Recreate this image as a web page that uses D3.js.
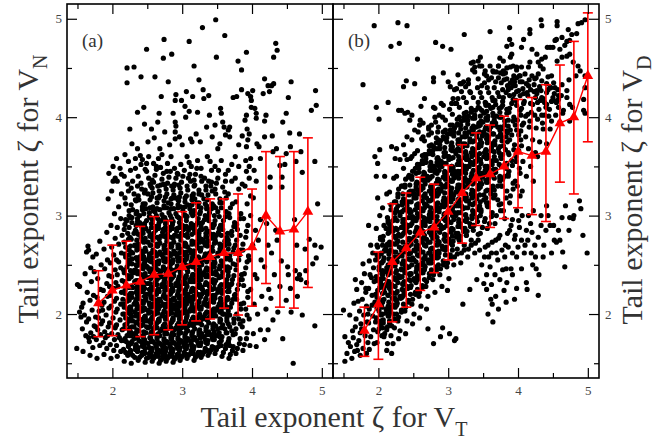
<!DOCTYPE html>
<html>
<head>
<meta charset="utf-8">
<script src="https://d3js.org/d3.v7.min.js"></script>
<style>
  body { margin: 0; background: #fff; }
  svg { display: block; }
</style>
</head>
<body>
<script>
// scatter points, values in hundredths, flat x,y pairs
// panel (a): zeta_T vs zeta_N, lower / core part
const scatterA = [
  149,165, 155,197, 153,202, 156,207, 150,230, 153,228,
  158,162, 162,178, 157,185, 163,192, 160,199, 158,211, 164,222, 161,241, 163,263, 165,269, 166,265,
  168,158, 172,166, 167,172, 173,177, 169,181, 174,188, 166,195, 171,204, 168,214, 173,219, 170,233, 174,243, 169,247, 172,258, 166,176,
  178,155, 182,168, 177,174, 183,179, 179,184, 184,190, 176,197, 181,203, 185,209, 178,217, 183,225, 179,236, 184,250, 177,261, 182,274, 180,196, 176,187,
  188,159, 192,165, 187,171, 193,178, 189,182, 194,187, 186,193, 191,199, 195,206, 188,212, 193,218, 187,224, 192,231, 195,239, 189,246, 193,255, 188,266, 192,283, 194,317, 195,343, 190,176, 186,204,
  198,155, 202,163, 197,169, 203,174, 199,180, 204,186, 196,191, 201,196, 205,202, 198,208, 203,213, 197,219, 202,226, 205,232, 199,238, 204,245, 197,252, 202,260, 199,268, 204,277, 198,290, 203,302, 199,325, 204,338, 201,335, 205,188, 196,228,
  207,157, 212,162, 206,168, 213,173, 208,179, 214,184, 206,189, 211,194, 215,200, 207,205, 212,210, 206,216, 213,222, 208,228, 214,234, 207,240, 212,247, 206,255, 213,262, 209,271, 214,280, 207,288, 212,297, 209,309, 213,322, 207,335, 211,348, 215,215, 210,176, 209,253,
  217,152, 222,158, 216,164, 223,169, 218,175, 224,180, 216,185, 221,190, 225,195, 217,200, 222,205, 216,210, 223,215, 218,221, 224,227, 217,233, 222,239, 216,245, 223,251, 219,258, 224,265, 217,273, 222,282, 218,291, 224,300, 219,312, 223,325, 217,340, 220,172, 225,238, 219,296,
  227,150, 232,156, 226,161, 233,167, 228,172, 234,177, 226,182, 231,187, 235,192, 227,197, 232,202, 226,207, 233,212, 228,217, 234,222, 227,228, 232,233, 226,239, 233,245, 228,251, 234,257, 227,263, 232,270, 226,277, 233,285, 228,293, 234,302, 227,311, 231,322, 229,335, 233,348, 229,180, 235,210, 230,242, 235,265,
  237,153, 242,158, 236,163, 243,168, 238,173, 244,178, 236,183, 241,188, 245,193, 237,198, 242,203, 236,208, 243,213, 238,218, 244,223, 236,228, 241,233, 245,238, 237,243, 242,249, 236,255, 243,261, 238,267, 244,274, 237,281, 242,289, 236,297, 243,306, 238,316, 242,327, 237,340, 244,170, 239,195, 240,225, 245,258, 239,293,
  247,151, 252,156, 246,161, 253,166, 248,171, 254,176, 246,181, 251,186, 255,191, 247,196, 252,201, 246,206, 253,211, 248,216, 254,221, 246,226, 251,231, 255,236, 247,241, 252,246, 246,252, 253,258, 248,264, 254,270, 247,277, 252,284, 246,291, 253,299, 248,307, 254,316, 247,326, 252,338, 249,353, 245,168, 250,193, 255,218, 250,248, 245,288,
  257,152, 262,157, 256,162, 263,167, 258,172, 264,177, 256,182, 261,187, 265,192, 257,197, 262,202, 256,207, 263,212, 258,217, 264,222, 256,227, 261,232, 265,237, 257,242, 262,247, 256,253, 263,259, 258,265, 264,271, 257,278, 262,285, 256,292, 263,300, 258,309, 264,318, 257,328, 261,341, 255,175, 260,200, 265,225, 260,250, 255,280, 259,305,
  267,150, 272,155, 266,160, 273,165, 268,170, 274,175, 266,180, 271,185, 275,190, 267,195, 272,200, 266,205, 273,210, 268,215, 274,220, 266,225, 271,230, 275,235, 267,240, 272,245, 266,251, 273,257, 268,263, 274,269, 267,276, 272,283, 266,290, 273,298, 268,306, 274,315, 267,325, 271,337, 269,349, 271,162, 265,212, 270,238, 275,262, 270,295,
  277,152, 282,157, 276,162, 283,167, 278,172, 284,177, 276,182, 281,187, 285,192, 277,197, 282,202, 276,207, 283,212, 278,217, 284,222, 276,227, 281,232, 285,237, 277,242, 282,247, 276,253, 283,259, 278,265, 284,271, 277,278, 282,285, 276,292, 283,300, 278,308, 284,317, 277,327, 281,339, 279,353, 275,170, 280,200, 285,225, 280,255, 275,285, 280,313,
  287,151, 292,156, 286,161, 293,166, 288,171, 294,176, 286,181, 291,186, 295,191, 287,196, 292,201, 286,206, 293,211, 288,216, 294,221, 286,226, 291,231, 295,236, 287,241, 292,246, 286,252, 293,258, 288,264, 294,270, 287,277, 292,284, 286,291, 293,299, 288,307, 294,316, 287,326, 291,338, 289,348, 285,175, 290,205, 295,228, 290,262, 285,295, 290,318,
  297,153, 302,158, 296,163, 303,168, 298,173, 304,178, 296,183, 301,188, 305,193, 297,198, 302,203, 296,208, 303,213, 298,218, 304,223, 296,228, 301,233, 305,238, 297,243, 302,248, 296,254, 303,260, 298,266, 304,272, 297,279, 302,286, 296,293, 303,301, 298,309, 304,318, 297,328, 301,340, 295,170, 300,210, 305,250, 300,290, 295,315,
  307,155, 312,160, 306,165, 313,170, 308,175, 314,180, 306,185, 311,190, 315,195, 307,200, 312,205, 306,210, 313,215, 308,220, 314,225, 306,230, 311,235, 315,240, 307,245, 312,250, 306,256, 313,262, 308,268, 314,274, 307,281, 312,288, 306,295, 313,303, 308,311, 314,320, 307,330, 311,342, 310,354, 305,172, 310,215, 315,258, 305,300, 312,335,
  317,153, 322,158, 316,164, 323,170, 318,176, 324,182, 316,188, 321,194, 325,200, 317,205, 322,210, 316,215, 323,220, 318,225, 324,230, 316,235, 321,240, 325,245, 317,250, 322,255, 316,261, 323,267, 318,273, 324,279, 317,286, 322,293, 316,301, 323,309, 318,317, 324,326, 317,336, 321,348, 315,195, 320,245, 325,285, 315,320,
  327,156, 332,162, 326,168, 333,174, 328,180, 334,186, 326,192, 331,197, 335,202, 327,207, 332,212, 326,217, 333,222, 328,227, 334,232, 326,237, 331,242, 335,247, 327,252, 332,258, 326,264, 333,270, 328,276, 334,282, 327,289, 332,296, 326,304, 333,312, 328,321, 334,330, 327,340, 325,230, 330,275, 335,310,
  337,158, 342,164, 336,170, 343,176, 338,182, 344,188, 336,194, 341,200, 345,205, 337,210, 342,215, 336,220, 343,225, 338,230, 344,235, 336,240, 341,246, 345,252, 337,258, 342,264, 336,270, 343,277, 338,284, 344,291, 337,299, 342,307, 336,316, 343,325, 338,335, 342,346, 340,355, 345,280,
  347,160, 352,167, 346,174, 353,181, 348,188, 354,195, 346,201, 351,207, 355,213, 347,219, 352,225, 346,231, 353,237, 348,243, 354,249, 346,255, 351,262, 355,269, 347,276, 352,283, 346,291, 353,299, 348,308, 354,317, 347,327, 351,338, 350,178, 350,240, 345,310,
  357,157, 362,165, 356,173, 363,181, 358,189, 364,196, 356,203, 361,210, 365,217, 357,224, 362,231, 356,238, 363,245, 358,252, 364,259, 356,266, 361,274, 365,282, 357,290, 362,299, 356,308, 363,318, 358,329, 362,342, 360,200, 360,270,
  367,155, 372,163, 366,171, 373,179, 368,187, 374,195, 366,203, 371,211, 375,219, 367,227, 372,235, 366,243, 373,251, 368,259, 374,267, 366,275, 371,284, 375,293, 367,302, 372,312, 366,322, 371,335, 368,168, 370,230,
  377,160, 382,170, 376,180, 383,190, 378,200, 384,210, 376,220, 381,230, 385,240, 377,250, 382,260, 376,270, 383,280, 378,291, 384,302, 377,314, 381,327,
  387,163, 392,175, 386,187, 393,199, 388,211, 394,223, 386,235, 391,247, 395,259, 387,271, 392,284, 388,297, 393,312, 390,330, 392,345, 396,350, 398,320,
  397,168, 402,180, 396,195, 403,210, 398,225, 404,240, 396,255, 401,270, 405,285, 398,300, 402,318, 406,335,
  406,167, 412,184, 408,200, 414,218, 407,236, 413,255, 409,275, 412,296,
  418,174, 423,184, 420,205, 424,225, 418,248, 423,270, 421,292,
  430,194, 427,216, 432,240, 428,262, 434,285,
  437,202, 444,175, 440,228, 442,254, 436,275,
  449,214, 451,248, 456,202, 452,240, 455,226,
  459,150, 462,244, 465,218, 464,270, 461,296, 465,236,
  468,240, 470,235, 472,199,
  477,244, 478,232, 476,266, 482,276,
  487,251, 490,188, 490,270, 492,257, 499,268, 494,312
];

// panel (a): the black core, points between the ones above
const coreA = [
  219,161, 223,167, 217,173, 221,178, 224,184, 218,189, 219,196, 223,201, 217,207, 221,213, 224,219, 218,224, 219,230, 223,236, 217,242, 221,248, 224,255, 218,261, 219,268, 223,276, 217,286, 221,295, 224,305, 218,318,
  229,158, 233,164, 227,170, 231,175, 234,181, 228,187, 229,193, 233,198, 227,204, 231,210, 234,215, 228,221, 229,227, 233,232, 227,238, 231,244, 234,250, 228,256, 229,262, 233,269, 227,276, 231,282, 234,290, 228,298, 229,306, 233,316, 227,328,
  239,156, 243,161, 237,166, 241,172, 244,177, 238,183, 239,189, 243,194, 237,200, 241,206, 244,211, 238,216, 239,222, 243,228, 237,234, 241,240, 244,246, 238,252, 239,258, 243,264, 237,271, 241,278, 244,285, 238,292, 239,300, 243,309, 237,320, 241,333,
  249,155, 253,160, 247,165, 251,170, 254,176, 248,181, 249,187, 253,193, 247,198, 251,204, 254,209, 248,214, 249,220, 253,225, 247,231, 251,237, 254,243, 248,249, 249,255, 253,261, 247,267, 251,273, 254,280, 248,287, 249,295, 253,303, 247,312, 251,322, 254,332, 249,345,
  259,155, 263,160, 257,165, 261,170, 264,175, 258,180, 259,185, 263,190, 257,195, 261,200, 264,205, 258,210, 259,215, 263,220, 257,225, 261,230, 264,235, 258,240, 259,245, 263,251, 257,257, 261,263, 264,269, 258,275, 259,282, 263,289, 257,296, 261,304, 264,313, 258,323, 259,334, 263,347,
  269,153, 273,158, 267,163, 271,168, 274,173, 268,178, 269,183, 273,188, 267,193, 271,198, 274,203, 268,208, 269,213, 273,218, 267,223, 271,228, 274,233, 268,238, 269,243, 273,248, 267,254, 271,260, 274,266, 268,272, 269,279, 273,286, 267,293, 271,301, 274,310, 268,320, 269,331, 273,343,
  279,155, 283,160, 277,165, 281,170, 284,175, 278,180, 279,185, 283,190, 277,195, 281,200, 284,205, 278,210, 279,215, 283,220, 277,225, 281,230, 284,235, 278,240, 279,245, 283,250, 277,256, 281,262, 284,268, 278,274, 279,281, 283,288, 277,295, 281,303, 284,312, 278,322, 279,333, 283,345,
  289,154, 293,159, 287,164, 291,169, 294,174, 288,179, 289,184, 293,189, 287,194, 291,199, 294,204, 288,209, 289,214, 293,219, 287,224, 291,229, 294,234, 288,239, 289,244, 293,249, 287,255, 291,261, 294,267, 288,273, 289,280, 293,287, 287,294, 291,302, 294,311, 288,321, 289,332, 293,343,
  299,156, 303,161, 297,166, 301,171, 304,176, 298,181, 299,186, 303,191, 297,196, 301,201, 304,206, 298,211, 299,216, 303,221, 297,226, 301,231, 304,236, 298,241, 299,246, 303,251, 297,257, 301,263, 304,269, 298,275, 299,282, 303,289, 297,297, 301,305, 304,314, 298,323, 299,334,
  309,158, 313,163, 307,168, 311,173, 314,178, 308,183, 309,188, 313,193, 307,198, 311,203, 314,208, 308,213, 309,218, 313,223, 307,228, 311,233, 314,238, 308,243, 309,248, 313,253, 307,259, 311,265, 314,271, 308,278, 309,285, 313,292, 307,299, 311,307, 314,316, 308,326, 309,338,
  319,156, 323,161, 317,167, 321,173, 324,179, 318,185, 319,191, 323,197, 317,203, 321,208, 324,213, 318,218, 319,223, 323,228, 317,233, 321,238, 324,243, 318,248, 319,253, 323,258, 317,264, 321,270, 324,276, 318,283, 319,290, 323,297, 317,305, 321,313, 324,322, 318,331, 319,342,
  329,159, 333,165, 327,171, 331,177, 334,183, 328,189, 329,195, 333,200, 327,205, 331,210, 334,215, 328,220, 329,225, 333,230, 327,235, 331,240, 334,245, 328,250, 329,255, 333,261, 327,267, 331,273, 334,279, 328,286, 329,293, 333,300, 327,308, 331,317, 334,326, 328,335,
  339,161, 343,167, 337,173, 341,179, 344,185, 338,191, 339,197, 343,203, 337,208, 341,213, 344,218, 338,223, 339,228, 343,233, 337,238, 341,244, 344,250, 338,256, 339,262, 343,268, 337,274, 341,281, 344,288, 338,295, 339,303, 343,312, 337,321, 341,330,
  349,164, 353,171, 347,178, 351,185, 354,192, 348,198, 349,204, 353,210, 347,216, 351,222, 354,228, 348,234, 349,240, 353,246, 347,252, 351,259, 354,266, 348,273, 349,280, 353,287, 347,295, 351,304, 354,313, 348,322, 349,333,
  359,161, 363,169, 357,177, 361,185, 364,193, 358,200, 359,207, 363,214, 357,221, 361,228, 364,235, 358,242, 359,249, 363,256, 357,263, 361,270, 364,278, 358,286, 359,295, 363,304, 357,313, 361,324,
  369,159, 373,167, 367,175, 371,183, 374,191, 368,199, 369,207, 373,215, 367,223, 371,231, 374,239, 368,247, 369,255, 373,263, 367,271, 371,280, 374,289, 368,298, 369,308,
  379,165, 383,175, 377,185, 381,195, 384,205, 378,215, 379,225, 383,235, 377,245, 381,255, 384,265, 378,275, 379,286, 383,297,
  389,169, 393,181, 387,193, 391,205, 394,217, 388,229, 389,241, 393,253, 387,265, 391,278, 394,290
];

// panel (a): core points lying between the columns above
const fillA = [
  226,163, 224,170, 226,178, 225,186, 224,193, 226,200, 225,207, 224,214, 226,221, 225,228, 224,236, 226,244, 225,252, 224,260, 226,269, 225,278, 224,288, 226,298,
  236,162, 234,169, 236,176, 235,184, 234,191, 236,198, 235,205, 234,212, 236,219, 235,226, 234,234, 236,241, 235,249, 234,257, 236,266, 235,275, 234,284, 236,294, 235,304, 234,315,
  246,160, 244,167, 246,174, 245,182, 244,189, 246,197, 245,204, 244,211, 246,218, 245,226, 244,233, 246,240, 245,248, 244,256, 246,264, 245,273, 244,282, 246,292, 245,302, 244,312, 246,323,
  256,158, 254,165, 256,172, 255,180, 254,187, 256,195, 255,202, 254,209, 256,216, 255,224, 254,231, 256,238, 255,246, 254,254, 256,262, 255,270, 254,279, 256,288, 255,298, 254,308, 256,319, 255,330,
  266,157, 264,164, 266,171, 265,179, 264,186, 266,194, 265,201, 264,208, 266,215, 265,223, 264,230, 266,237, 265,245, 264,253, 266,261, 265,269, 264,278, 266,287, 265,297, 264,307, 266,318, 265,330,
  276,158, 274,165, 276,172, 275,180, 274,187, 276,195, 275,202, 274,209, 276,216, 275,224, 274,231, 276,238, 275,246, 274,254, 276,262, 275,270, 274,279, 276,288, 275,298, 274,308, 276,319, 275,331,
  286,157, 284,164, 286,171, 285,179, 284,186, 286,194, 285,201, 284,208, 286,215, 285,223, 284,230, 286,237, 285,245, 284,253, 286,261, 285,269, 284,278, 286,287, 285,297, 284,307, 286,318, 285,330,
  296,158, 294,165, 296,172, 295,180, 294,187, 296,195, 295,202, 294,209, 296,216, 295,224, 294,231, 296,238, 295,246, 294,254, 296,262, 295,270, 294,279, 296,288, 295,298, 294,308, 296,319, 295,331,
  306,159, 304,166, 306,173, 305,181, 304,188, 306,196, 305,203, 304,210, 306,217, 305,225, 304,232, 306,239, 305,247, 304,255, 306,263, 305,271, 304,280, 306,289, 305,299, 304,309, 306,320,
  316,160, 314,167, 316,174, 315,182, 314,189, 316,197, 315,204, 314,211, 316,218, 315,226, 314,233, 316,240, 315,248, 314,256, 316,264, 315,272, 314,281, 316,290, 315,300, 314,311, 316,322,
  326,161, 324,168, 326,176, 325,184, 324,191, 326,198, 325,205, 324,212, 326,219, 325,227, 324,234, 326,241, 325,249, 324,257, 326,265, 325,273, 324,282, 326,292, 325,302, 324,313,
  336,163, 334,171, 336,179, 335,187, 334,195, 336,202, 335,209, 334,216, 336,223, 335,231, 334,238, 336,245, 335,253, 334,261, 336,269, 335,278, 334,287, 336,297, 335,307,
  346,166, 344,174, 346,182, 345,190, 344,198, 346,205, 345,212, 344,219, 346,226, 345,234, 344,241, 346,248, 345,256, 344,264, 346,272, 345,281, 344,290, 346,300,
  356,168, 354,177, 356,186, 355,194, 354,202, 356,209, 355,216, 354,223, 356,230, 355,238, 354,246, 356,254, 355,262, 354,271, 356,280, 355,290,
  366,172, 364,181, 366,190, 365,199, 364,207, 366,215, 365,223, 364,231, 366,239, 365,248, 364,257, 366,266, 365,276
];

// panel (a): sparse upper points
const upperA = [
  274,479, 329,491, 348,499, 361,483, 310,477, 249,469, 273,460, 285,464, 221,435, 221,450,
  231,451, 241,441, 261,441, 349,461, 392,466, 380,457, 385,448, 434,475, 436,468, 431,461,
  317,452, 324,438, 280,436, 291,423, 299,417, 306,426, 315,421, 330,428, 331,419, 338,422,
  270,421, 290,417, 304,411, 310,406, 305,400, 355,409, 356,404, 373,420, 378,421, 385,428,
  398,421, 399,417, 418,439, 423,432, 428,432, 431,434, 425,426, 416,424, 401,427, 394,424,
  399,410, 404,409, 406,404, 406,399, 420,402, 418,396, 392,402, 390,397, 456,436, 452,420,
  449,404, 444,395, 491,427, 492,412, 485,407, 225,388, 246,393, 267,404, 260,379, 290,395,
  291,391, 290,385, 290,378, 228,373, 223,355, 240,361, 243,357, 259,353, 268,368, 271,362,
  314,375, 312,378, 351,368, 354,373, 366,387, 368,390, 360,390, 358,395, 362,382, 368,380,
  386,381, 393,388, 396,383, 394,377, 392,370, 407,373, 410,370, 429,381, 430,365, 454,384,
  455,370, 468,383, 470,365, 472,344, 490,355, 463,355, 440,351, 443,339, 443,329, 426,339,
  426,329, 449,363,
  236,368, 251,375, 256,388, 275,385, 282,372, 296,380, 300,372, 320,383, 326,375, 335,390,
  343,380, 347,392, 339,402, 322,405, 287,404, 265,395, 245,410, 236,405, 376,360, 381,372,
  412,358, 418,380, 435,368, 447,352, 398,358, 403,346,
  222,332, 226,346, 233,358, 218,362, 236,330, 241,352, 247,347, 252,360, 257,336, 263,350,
  266,358, 273,332, 278,345, 284,360, 288,330, 294,342, 298,352, 303,346, 307,360, 313,350,
  317,330, 322,356, 327,348, 332,338, 336,360, 342,334, 347,350, 352,346, 356,356, 362,335,
  366,346, 371,352, 376,338, 381,350, 386,332, 391,356, 396,338, 201,350, 206,358, 213,342
];

// panel (b): zeta_T vs zeta_D
const scatterB = [
  150,204, 152,177, 152,152, 155,160, 157,171,
  159,199, 160,167, 162,155, 163,183, 165,211, 166,162, 164,176,
  167,235, 169,225, 168,195, 172,173, 170,163, 174,181, 167,187, 173,203, 171,213, 174,158, 169,169, 175,190,
  178,251, 176,232, 180,241, 182,222, 177,215, 183,208, 179,199, 184,192, 176,185, 181,178, 185,171, 178,165, 183,160, 182,226, 185,200,
  186,290, 189,270, 192,262, 187,254, 193,247, 188,240, 194,233, 186,226, 191,219, 195,212, 187,205, 192,198, 186,191, 193,184, 189,177, 194,170, 187,164, 191,209, 190,237,
  199,318, 202,300, 197,287, 203,278, 198,270, 204,262, 196,255, 201,248, 205,241, 197,234, 202,227, 196,220, 203,213, 198,206, 204,199, 196,192, 201,185, 205,178, 198,171, 200,258, 203,233, 197,340,
  209,340, 212,322, 206,308, 213,298, 208,290, 214,282, 206,275, 211,268, 215,261, 207,254, 212,247, 206,240, 213,233, 208,226, 214,219, 206,212, 211,205, 215,198, 207,191, 212,184, 208,177, 213,170, 210,230, 209,265, 212,163,
  222,338, 216,324, 223,314, 218,306, 224,298, 216,291, 221,284, 225,277, 217,270, 222,263, 216,256, 223,249, 218,242, 224,235, 216,228, 221,221, 225,214, 217,207, 222,200, 216,193, 223,186, 218,178, 221,170, 219,160, 222,250, 219,288, 220,216,
  226,340, 233,330, 228,322, 234,314, 226,307, 231,300, 235,293, 227,286, 232,279, 226,272, 233,265, 228,258, 234,251, 226,244, 231,237, 235,230, 227,223, 232,216, 226,209, 233,202, 228,193, 231,183, 229,175, 230,268, 233,245, 228,310,
  236,348, 243,339, 238,331, 244,324, 236,317, 241,310, 245,303, 237,296, 242,289, 236,282, 243,275, 238,268, 244,261, 236,254, 241,247, 245,240, 237,233, 242,226, 236,219, 243,212, 238,203, 241,193, 239,180, 240,285, 242,305, 238,250,
  246,358, 253,348, 248,340, 254,332, 246,325, 251,318, 255,311, 247,304, 252,297, 246,290, 253,283, 248,276, 254,269, 246,262, 251,255, 255,248, 247,241, 252,234, 246,227, 253,220, 248,210, 251,200, 249,190, 250,295, 250,325, 251,265,
  259,392, 262,378, 256,366, 263,356, 258,348, 264,340, 256,333, 261,326, 265,319, 257,312, 262,305, 256,298, 263,291, 258,284, 264,277, 256,270, 261,263, 265,256, 257,249, 262,242, 256,235, 263,227, 258,218, 261,208, 259,196, 260,300, 262,330, 260,250,
  272,388, 266,376, 273,366, 268,358, 274,350, 266,343, 271,336, 275,329, 267,322, 272,315, 266,308, 273,301, 268,294, 274,287, 266,280, 271,273, 275,266, 267,259, 272,252, 266,245, 273,237, 268,228, 271,218, 269,205, 271,185, 270,310, 270,340, 272,262,
  279,410, 282,395, 276,384, 283,374, 278,366, 284,358, 276,351, 281,344, 285,337, 277,330, 282,323, 276,316, 283,309, 278,302, 284,295, 276,288, 281,281, 285,274, 277,267, 282,260, 276,252, 283,244, 278,235, 281,222, 279,170, 280,320, 280,350, 280,290,
  292,400, 286,390, 293,380, 288,372, 294,364, 286,357, 291,350, 295,343, 287,336, 292,329, 286,322, 293,315, 288,308, 294,301, 286,294, 291,287, 295,280, 287,273, 292,266, 286,258, 293,250, 288,240, 291,228, 289,177, 290,325, 290,355, 292,186,
  302,408, 296,397, 303,387, 298,379, 304,371, 296,364, 301,357, 305,350, 297,343, 302,336, 296,329, 303,322, 298,315, 304,308, 296,301, 301,294, 305,287, 297,280, 302,273, 296,265, 303,257, 298,248, 301,236, 299,224, 300,330, 300,360, 302,180,
  309,428, 312,414, 306,403, 313,393, 308,385, 314,377, 306,370, 311,363, 315,356, 307,349, 312,342, 306,335, 313,328, 308,321, 314,314, 306,307, 311,300, 315,293, 307,286, 312,278, 306,270, 313,261, 308,250, 311,175, 309,173, 310,340, 310,310,
  319,434, 322,420, 316,410, 323,400, 318,392, 324,384, 316,377, 321,370, 325,363, 317,356, 322,349, 316,342, 323,335, 318,328, 324,321, 316,314, 321,307, 325,300, 317,292, 322,284, 316,275, 323,265, 318,252, 321,210, 320,345, 320,380,
  329,438, 332,425, 326,415, 333,405, 328,397, 334,389, 326,382, 331,375, 335,368, 327,361, 332,354, 326,347, 333,340, 328,333, 334,326, 326,319, 331,312, 335,305, 327,297, 332,289, 326,280, 333,270, 328,258, 331,225, 330,350, 330,385,
  342,430, 336,420, 343,410, 338,402, 344,394, 336,387, 341,380, 345,373, 337,366, 342,359, 336,352, 343,345, 338,338, 344,331, 336,324, 341,317, 345,310, 337,302, 342,294, 336,285, 343,275, 338,262, 341,235, 340,390, 340,355,
  352,435, 346,425, 353,415, 348,407, 354,399, 346,392, 351,385, 355,378, 347,371, 352,364, 346,357, 353,350, 348,343, 354,336, 346,329, 351,321, 355,313, 347,304, 352,294, 346,282, 353,268, 348,250, 351,231, 355,240, 350,395,
  362,440, 356,430, 363,420, 358,412, 364,404, 356,397, 361,390, 365,383, 357,376, 362,369, 356,362, 363,355, 358,348, 364,341, 356,334, 361,326, 365,318, 357,309, 362,299, 356,287, 363,273, 358,258, 364,192, 360,248, 362,230,
  372,440, 366,430, 373,421, 368,413, 374,405, 366,397, 371,390, 375,383, 367,376, 372,368, 366,360, 373,352, 368,344, 374,335, 366,326, 371,316, 375,305, 367,292, 372,277, 368,218, 371,255, 374,235, 369,262,
  382,445, 376,435, 383,425, 378,416, 384,408, 376,400, 381,392, 385,384, 377,376, 382,367, 376,358, 383,348, 378,337, 384,325, 376,312, 381,297, 385,282, 380,224, 383,246, 377,265, 382,270,
  392,438, 386,428, 393,418, 388,409, 394,400, 386,391, 391,382, 395,372, 387,362, 392,351, 386,340, 393,327, 388,313, 392,296, 390,246, 392,262, 395,276, 388,285,
  402,442, 396,432, 403,422, 398,412, 404,402, 396,392, 401,382, 405,371, 397,360, 402,348, 396,335, 403,320, 398,305, 402,288, 400,268, 405,275, 398,258,
  406,436, 413,425, 408,414, 414,403, 406,392, 411,380, 415,368, 407,355, 412,340, 406,325, 412,285, 410,270, 415,300,
  416,438, 423,426, 418,414, 424,402, 416,390, 421,377, 425,364, 418,350, 422,335, 421,250, 420,283, 424,270,
  426,440, 433,427, 428,415, 434,402, 426,389, 431,375, 428,360, 429,219, 433,290,
  443,428, 438,415, 444,401, 436,388, 441,373, 440,285, 443,300,
  453,430, 448,416, 454,402, 446,388, 455,273, 451,290,
  463,433, 458,418, 464,404, 460,395, 464,263, 467,248,
  473,438, 470,420, 474,298,
  483,442, 479,297, 478,410,
  493,280, 490,307,
  499,262
];

// panel (b): the black band, points between the ones above
const coreB = [
  199,182, 203,189, 197,196, 201,203, 204,210, 198,217, 199,224, 203,231, 197,238, 201,245, 204,252, 198,260, 199,268, 203,276,
  209,180, 213,187, 207,194, 211,201, 214,208, 208,215, 209,222, 213,229, 207,236, 211,243, 214,250, 208,257, 209,264, 213,271, 207,279, 211,287, 214,295,
  219,188, 223,195, 217,202, 221,209, 224,216, 218,223, 219,230, 223,237, 217,244, 221,251, 224,258, 218,265, 219,272, 223,279, 217,287, 221,295, 224,303, 218,311,
  229,197, 233,204, 227,211, 231,218, 234,225, 228,232, 229,239, 233,246, 227,253, 231,260, 234,267, 228,274, 229,281, 233,288, 227,295, 231,303, 234,311, 228,319, 229,327,
  239,207, 243,214, 237,221, 241,228, 244,235, 238,242, 239,249, 243,256, 237,263, 241,270, 244,277, 238,284, 239,291, 243,298, 237,306, 241,314, 244,321, 238,329, 239,337,
  249,215, 253,222, 247,229, 251,236, 254,243, 248,250, 249,257, 253,264, 247,271, 251,278, 254,285, 248,292, 249,299, 253,306, 247,314, 251,322, 254,329, 248,337, 249,345,
  259,222, 263,229, 257,238, 261,245, 264,252, 258,259, 259,266, 263,273, 257,280, 261,287, 264,294, 258,301, 259,308, 263,315, 257,322, 261,329, 264,336, 258,344, 259,352, 263,361,
  269,233, 273,241, 267,248, 271,255, 274,262, 268,269, 269,276, 273,283, 267,290, 271,297, 274,304, 268,311, 269,318, 273,325, 267,332, 271,339, 274,346, 268,354, 269,362, 273,371,
  279,240, 283,248, 277,256, 281,263, 284,270, 278,277, 279,284, 283,291, 277,298, 281,305, 284,312, 278,319, 279,326, 283,333, 277,340, 281,347, 284,354, 278,362, 279,370, 283,379,
  289,246, 293,254, 287,262, 291,269, 294,276, 288,283, 289,290, 293,297, 287,304, 291,311, 294,318, 288,325, 289,332, 293,339, 287,346, 291,353, 294,360, 288,368, 289,376, 293,385,
  299,252, 303,260, 297,268, 301,276, 304,283, 298,290, 299,297, 303,304, 297,311, 301,318, 304,325, 298,332, 299,339, 303,346, 297,353, 301,360, 304,367, 298,375, 299,383, 303,392,
  309,258, 313,266, 307,274, 311,282, 314,289, 308,296, 309,303, 313,310, 307,317, 311,324, 314,331, 308,338, 309,345, 313,352, 307,359, 311,366, 314,373, 308,381, 309,389, 313,398,
  319,262, 323,270, 317,279, 321,287, 324,295, 318,303, 319,310, 323,317, 317,324, 321,331, 324,338, 318,345, 319,352, 323,359, 317,366, 321,373, 324,380, 318,388, 319,396, 323,404,
  329,266, 333,275, 327,284, 331,292, 334,300, 328,308, 329,315, 333,322, 327,329, 331,336, 334,343, 328,350, 329,357, 333,364, 327,371, 331,378, 334,385, 328,393, 329,401, 333,409,
  339,272, 343,281, 337,290, 341,298, 344,306, 338,313, 339,320, 343,327, 337,334, 341,341, 344,348, 338,355, 339,362, 343,369, 337,376, 341,383, 344,391, 338,399, 339,407, 343,415,
  349,288, 353,297, 347,306, 351,316, 354,325, 348,332, 349,339, 353,346, 347,353, 351,360, 354,367, 348,374, 349,381, 353,388, 347,396, 351,404, 354,412, 348,420,
  359,292, 363,303, 357,313, 361,322, 364,330, 358,338, 359,345, 363,352, 357,359, 361,366, 364,373, 358,380, 359,387, 363,394, 357,401, 361,409, 364,417, 358,425,
  369,300, 373,311, 367,321, 371,330, 374,338, 368,347, 369,356, 373,364, 367,372, 371,380, 374,387, 368,394, 369,401, 373,409, 367,417, 371,425,
  379,305, 383,318, 377,330, 381,340, 384,352, 378,362, 379,371, 383,380, 377,388, 381,396, 384,404, 378,412, 379,420,
  389,320, 393,333, 387,345, 391,356, 394,367, 388,377, 389,387, 393,396, 387,405, 391,414, 394,423,
  399,330, 403,343, 397,355, 401,366, 404,377, 398,387, 399,397, 403,407, 397,417, 401,427
];

// panel (b): band points lying between the columns above
const fillB = [
  206,186, 204,193, 206,200, 205,207, 204,214, 206,221, 205,228, 204,236, 206,244, 205,252, 204,261, 206,270,
  216,191, 214,198, 216,205, 215,212, 214,219, 216,226, 215,233, 214,240, 216,248, 215,256, 214,264, 216,273, 215,283, 214,293,
  226,200, 224,207, 226,214, 225,221, 224,228, 226,235, 225,242, 224,249, 226,256, 225,263, 224,271, 226,279, 225,287, 224,296, 226,305, 225,314,
  236,210, 234,217, 236,224, 235,231, 234,238, 236,245, 235,252, 234,259, 236,266, 235,273, 234,280, 236,288, 235,296, 234,304, 236,313, 235,322, 234,330,
  246,220, 244,227, 246,234, 245,241, 244,248, 246,255, 245,262, 244,269, 246,276, 245,283, 244,290, 246,298, 245,306, 244,314, 246,322, 245,331, 244,341,
  256,225, 254,232, 256,239, 255,246, 254,253, 256,260, 255,267, 254,274, 256,281, 255,288, 254,295, 256,302, 255,310, 254,318, 256,326, 255,334, 254,343, 256,352,
  266,235, 264,242, 266,249, 265,256, 264,263, 266,270, 265,277, 264,284, 266,291, 265,298, 264,305, 266,312, 265,320, 264,328, 266,336, 265,344, 264,353, 266,362,
  276,245, 274,252, 276,259, 275,266, 274,273, 276,280, 275,287, 274,294, 276,301, 275,308, 274,315, 276,322, 275,330, 274,338, 276,346, 275,354, 274,363, 276,372,
  286,250, 284,257, 286,264, 285,271, 284,278, 286,285, 285,292, 284,299, 286,306, 285,313, 284,320, 286,327, 285,335, 284,343, 286,351, 285,359, 284,368, 286,377, 285,385,
  296,260, 294,267, 296,274, 295,281, 294,288, 296,295, 295,302, 294,309, 296,316, 295,323, 294,330, 296,337, 295,345, 294,353, 296,361, 295,369, 294,378, 296,387,
  306,265, 304,272, 306,279, 305,286, 304,293, 306,300, 305,307, 304,314, 306,321, 305,328, 304,335, 306,342, 305,350, 304,358, 306,366, 305,374, 304,383, 306,392,
  316,275, 314,282, 316,289, 315,296, 314,303, 316,310, 315,317, 314,324, 316,331, 315,338, 314,345, 316,352, 315,360, 314,368, 316,376, 315,384, 314,392, 316,400,
  326,280, 324,287, 326,294, 325,301, 324,308, 326,315, 325,322, 324,329, 326,336, 325,343, 324,350, 326,357, 325,365, 324,373, 326,381, 325,389, 324,397, 326,405,
  336,290, 334,297, 336,304, 335,311, 334,318, 336,325, 335,332, 334,339, 336,346, 335,353, 334,360, 336,367, 335,375, 334,383, 336,391, 335,399, 334,407,
  346,300, 344,307, 346,314, 345,321, 344,328, 346,335, 345,342, 344,349, 346,356, 345,363, 344,370, 346,377, 345,385, 344,393, 346,401, 345,409,
  356,310, 354,318, 356,326, 355,334, 354,342, 356,350, 355,358, 354,366, 356,374, 355,382, 354,390, 356,398, 355,406, 354,414,
  366,320, 364,329, 366,338, 365,347, 364,356, 366,365, 365,374, 364,383, 366,392, 365,401, 364,410,
  376,330, 374,340, 376,350, 375,360, 374,370, 376,380, 375,390, 374,400, 376,410,
  386,342, 384,353, 386,364, 385,375, 384,386, 386,397, 385,408
];

// panel (b): dense part above the band on the right
const midB = [
  404,386, 408,394, 411,401, 405,409, 409,416, 414,422, 407,429, 412,434, 417,396, 419,405,
  421,413, 425,420, 418,428, 423,433, 428,398, 430,408, 432,417, 427,424, 431,431, 435,394,
  438,402, 440,410, 436,419, 441,425, 445,408, 448,396, 450,420, 447,430, 455,415, 452,424,
  458,410, 462,422, 457,428, 390,430, 395,436, 398,426, 385,432, 380,438, 375,445, 368,436,
  364,447, 358,438, 352,444, 348,432, 343,439, 338,446, 345,452, 360,452, 372,452, 384,450,
  398,448, 403,436, 394,442, 388,422, 378,428
];

// panel (b): sparse points at the top right
const topB = [
  360,487, 388,491, 388,479, 391,474, 384,472, 417,489, 417,485, 433,499, 434,493, 456,497,
  456,493, 472,489, 486,495, 491,496, 496,499, 484,485, 477,484, 474,478, 453,478, 455,479,
  463,481, 470,477, 467,473, 460,469, 450,471, 446,471, 442,471, 408,479, 405,471, 420,469,
  427,464, 439,461, 434,459, 463,461, 456,457, 470,462, 474,464, 479,456, 486,452, 489,447,
  496,442, 496,430, 494,418, 494,407, 374,460, 379,457, 389,461, 391,464, 372,452, 365,446,
  369,446, 379,447, 389,451, 393,452, 398,451, 405,451, 415,451, 417,456, 346,461, 343,457,
  348,452, 336,456, 338,451, 353,447, 355,442, 429,456, 432,452, 436,449, 429,444, 424,439,
  434,437, 443,441, 448,442, 451,435, 441,434, 446,430, 420,442, 410,444, 403,442, 398,440,
  379,444, 384,439, 389,435, 393,432, 458,422, 470,427, 474,413, 427,427, 415,432, 408,424,
  434,420, 451,417, 441,413, 465,407, 474,396, 496,404
];

// panel (b): sparse points at the top left
const upperB = [
  194,493, 228,496, 241,493, 218,472, 230,475, 282,476, 292,472, 304,469, 323,484, 256,459,
  333,455, 335,448, 178,433, 236,431, 240,437, 252,434, 279,440, 279,436, 293,445, 300,436,
  303,431, 314,443, 317,434, 322,436, 325,431, 329,434, 331,426, 312,429, 319,426, 314,419,
  307,419, 305,414, 310,414, 214,415, 197,410, 201,398, 229,407, 233,407, 238,404, 242,405,
  248,402, 245,397, 261,411, 266,419, 281,409, 290,414, 293,412, 287,402, 281,400, 260,397,
  264,394, 272,390, 276,392, 252,387, 257,385, 241,380, 248,377, 264,380, 272,382, 202,367,
  195,360, 199,353, 219,370, 226,368, 236,372, 224,358, 231,357, 241,357, 238,362, 248,360,
  252,363
];

// panel (b): scattered points below the band on the right
const fringeB = [
  345,265, 352,258, 357,270, 362,262, 368,275, 374,280, 381,258, 386,268, 390,290, 396,280,
  401,295, 406,300, 409,262, 414,275, 418,292, 422,305, 425,258, 429,278, 433,300, 437,270,
  441,310, 446,290, 452,275, 458,285, 463,298, 468,310, 355,225, 361,215, 367,240, 378,245,
  384,232, 392,240, 398,226, 405,246, 412,232, 419,262, 426,246, 436,258, 448,262, 460,275,
  473,285, 480,300, 488,315, 357,200, 363,210, 372,205, 383,212, 395,215, 413,225, 430,240
];

// binned means with error bars (red)
const binsA = [1.8, 2.0, 2.2, 2.4, 2.6, 2.8, 3.0, 3.2, 3.4, 3.6, 3.8, 4.0, 4.2, 4.4, 4.6, 4.8];
const meanA = [2.11, 2.24, 2.29, 2.33, 2.40, 2.41, 2.48, 2.53, 2.58, 2.62, 2.62, 2.68, 3.00, 2.84, 2.86, 3.04];
const loA   = [1.77, 1.78, 1.84, 1.77, 1.79, 1.84, 1.89, 1.93, 1.95, 2.06, 1.99, 2.08, 2.31, 2.07, 2.06, 2.27];
const hiA   = [2.44, 2.70, 2.74, 2.89, 2.99, 2.95, 3.04, 3.13, 3.17, 3.17, 3.22, 3.27, 3.65, 3.60, 3.65, 3.79];

const binsB = [1.8, 2.0, 2.2, 2.4, 2.6, 2.8, 3.0, 3.2, 3.4, 3.6, 3.8, 4.0, 4.2, 4.4, 4.6, 4.8, 5.0];
const meanB = [1.83, 2.10, 2.53, 2.67, 2.83, 2.88, 3.04, 3.23, 3.38, 3.42, 3.50, 3.65, 3.61, 3.65, 3.94, 4.00, 4.42];
const loB   = [1.57, 1.54, 1.92, 2.07, 2.24, 2.42, 2.55, 2.72, 2.90, 2.88, 2.97, 3.08, 3.01, 2.94, 3.34, 3.22, 3.75];
const hiB   = [2.07, 2.63, 3.12, 3.23, 3.39, 3.32, 3.51, 3.72, 3.84, 3.92, 4.01, 4.18, 4.20, 4.33, 4.53, 4.77, 5.06];

const majorTicks = [2, 3, 4, 5];
const minorTicks = [1.5, 2.5, 3.5, 4.5];

const width = 667, height = 441;
const plotTop = 4, plotBottom = 378;
const serif = "'Liberation Serif', 'Times New Roman', serif";

const toPairs = arr => d3.range(0, arr.length, 2).map(i => [arr[i] / 100, arr[i + 1] / 100]);

const panels = [
  { name: "a", left: 67, right: 333, pts: toPairs(scatterA.concat(coreA, fillA, upperA)),
    stats: binsA.map((b, i) => ({ x: b, m: meanA[i], lo: loA[i], hi: hiA[i] })) },
  { name: "b", left: 333, right: 599, pts: toPairs(scatterB.concat(coreB, fillB, midB, topB, upperB, fringeB)),
    stats: binsB.map((b, i) => ({ x: b, m: meanB[i], lo: loB[i], hi: hiB[i] })) }
];

const svg = d3.select("body").append("svg")
  .attr("width", width)
  .attr("height", height);

const y = d3.scaleLinear().domain([1.35, 5.15]).range([plotBottom, plotTop]);

function styleAxis(g) {
  g.select(".domain").remove();
  g.selectAll(".tick line").attr("stroke", "#000").attr("stroke-width", 1.2);
  g.selectAll(".tick text")
    .attr("fill", "#444")
    .style("font-family", serif)
    .style("font-size", "13px");
}

panels.forEach(p => {
  const x = d3.scaleLinear().domain([1.35, 5.16]).range([p.left, p.right]);

  svg.append("clipPath").attr("id", "clip-" + p.name)
    .append("rect")
    .attr("x", p.left).attr("y", plotTop)
    .attr("width", p.right - p.left).attr("height", plotBottom - plotTop);

  // scatter
  svg.append("g")
    .attr("clip-path", `url(#clip-${p.name})`)
    .selectAll("circle")
    .data(p.pts)
    .join("circle")
    .attr("cx", d => x(d[0]))
    .attr("cy", d => y(d[1]))
    .attr("r", 2.6)
    .attr("fill", "#000");

  // red binned averages
  const red = svg.append("g").attr("clip-path", `url(#clip-${p.name})`);
  red.append("path")
    .datum(p.stats)
    .attr("fill", "none")
    .attr("stroke", "#ff0000")
    .attr("stroke-width", 1.4)
    .attr("d", d3.line().x(d => x(d.x)).y(d => y(d.m)));

  const bars = red.selectAll("g.bar").data(p.stats).join("g").attr("class", "bar");
  bars.append("line")
    .attr("x1", d => x(d.x)).attr("x2", d => x(d.x))
    .attr("y1", d => y(d.lo)).attr("y2", d => y(d.hi))
    .attr("stroke", "#ff0000").attr("stroke-width", 1.6);
  ["lo", "hi"].forEach(k => {
    bars.append("line")
      .attr("x1", d => x(d.x) - 5).attr("x2", d => x(d.x) + 5)
      .attr("y1", d => y(d[k])).attr("y2", d => y(d[k]))
      .attr("stroke", "#ff0000").attr("stroke-width", 1.6);
  });
  bars.append("path")
    .attr("transform", d => `translate(${x(d.x)},${y(d.m)})`)
    .attr("d", d3.symbol(d3.symbolTriangle).size(50))
    .attr("fill", "#ff0000");

  // ticks
  const isA = p.name === "a";
  svg.append("g").attr("transform", `translate(0,${plotBottom})`)
    .call(d3.axisBottom(x).tickValues(majorTicks).tickSize(-10).tickPadding(8).tickFormat(d3.format("d")))
    .call(styleAxis);
  svg.append("g").attr("transform", `translate(0,${plotBottom})`)
    .call(d3.axisBottom(x).tickValues(minorTicks).tickSize(-5).tickFormat(""))
    .call(styleAxis);
  svg.append("g").attr("transform", `translate(0,${plotTop})`)
    .call(d3.axisTop(x).tickValues(majorTicks).tickSize(-10).tickFormat(""))
    .call(styleAxis);
  svg.append("g").attr("transform", `translate(0,${plotTop})`)
    .call(d3.axisTop(x).tickValues(minorTicks).tickSize(-5).tickFormat(""))
    .call(styleAxis);

  svg.append("g").attr("transform", `translate(${p.left},0)`)
    .call(d3.axisLeft(y).tickValues(majorTicks).tickSize(-10).tickPadding(5)
      .tickFormat(isA ? d3.format("d") : ""))
    .call(styleAxis);
  svg.append("g").attr("transform", `translate(${p.left},0)`)
    .call(d3.axisLeft(y).tickValues(minorTicks).tickSize(-5).tickFormat(""))
    .call(styleAxis);
  svg.append("g").attr("transform", `translate(${p.right},0)`)
    .call(d3.axisRight(y).tickValues(majorTicks).tickSize(-10).tickPadding(6)
      .tickFormat(isA ? "" : d3.format("d")))
    .call(styleAxis);
  svg.append("g").attr("transform", `translate(${p.right},0)`)
    .call(d3.axisRight(y).tickValues(minorTicks).tickSize(-5).tickFormat(""))
    .call(styleAxis);

  // frame
  svg.append("rect")
    .attr("x", p.left).attr("y", plotTop)
    .attr("width", p.right - p.left).attr("height", plotBottom - plotTop)
    .attr("fill", "none")
    .attr("stroke", "#000")
    .attr("stroke-width", 1.6);

  // panel tag
  svg.append("text")
    .attr("x", p.left + 15).attr("y", 47)
    .attr("fill", "#333")
    .style("font-family", serif)
    .style("font-size", "19px")
    .text(`(${p.name})`);
});

// axis titles
function title(sel, sub) {
  sel.attr("fill", "#333")
    .attr("text-anchor", "middle")
    .style("font-family", serif)
    .style("font-size", "30px");
  sel.append("tspan").text("Tail exponent \u03b6 for V");
  sel.append("tspan").attr("dy", 9).style("font-size", "20px").text(sub);
}

svg.append("text").attr("x", 334).attr("y", 427).call(title, "T");
svg.append("text").attr("transform", "translate(38,189) rotate(-90)").call(title, "N");
svg.append("text").attr("transform", "translate(642,190) rotate(-90)").call(title, "D");
</script>
</body>
</html>
